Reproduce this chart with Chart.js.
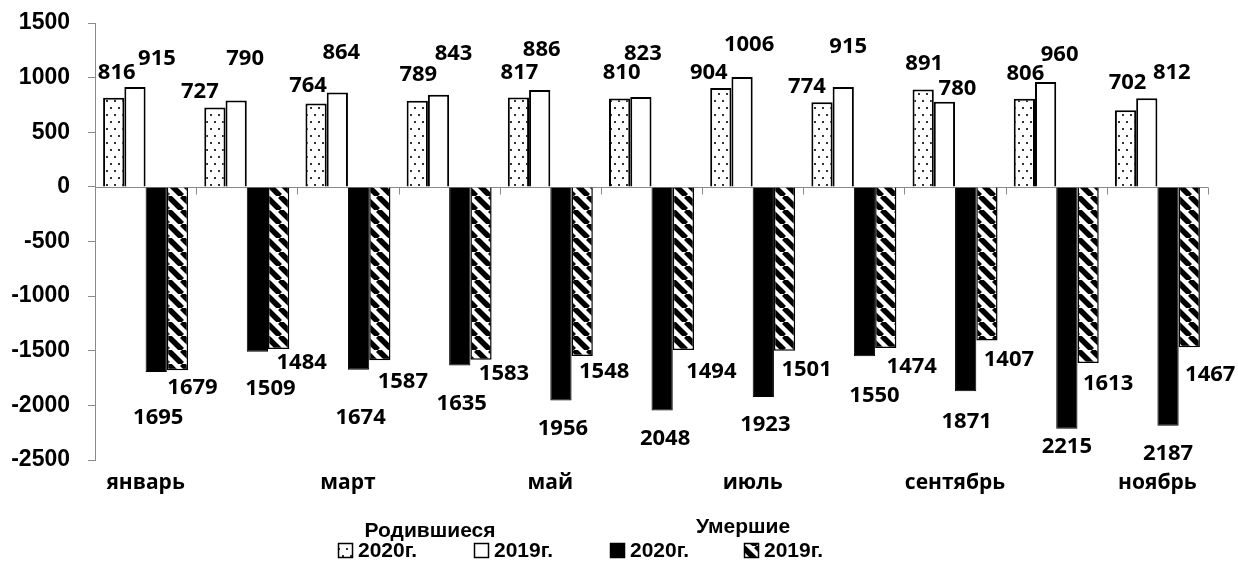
<!DOCTYPE html>
<html><head><meta charset="utf-8">
<script src="https://cdn.jsdelivr.net/npm/chart.js@4.4.1/dist/chart.umd.min.js"></script>
<style>html,body{margin:0;padding:0;background:#fff;}#wrap{width:1238px;height:564px;position:relative;}</style>
</head><body><div id="wrap"><canvas id="c" width="1238" height="564"></canvas></div>
<script>
const months = ['январь','февраль','март','апрель','май','июнь','июль','август','сентябрь','октябрь','ноябрь'];
const births2020 = [816,727,764,789,817,810,904,774,891,806,702];
const births2019 = [915,790,864,843,886,823,1006,915,780,960,812];
const deaths2020 = [-1695,-1509,-1674,-1635,-1956,-2048,-1923,-1550,-1871,-2215,-2187];
const deaths2019 = [-1679,-1484,-1587,-1583,-1548,-1494,-1501,-1474,-1407,-1613,-1467];
const yTickValues = [-2500,-2000,-1500,-1000,-500,0,500,1000,1500];
const seriesLabels = ['2020г.','2019г.','2020г.','2019г.'];
const groupTitles = ['Родившиеся','Умершие'];

// label nudges (pixels, relative to bar end)
const labelNudgeX = [[3,-15,-8,1,1,2,-12,-15,1,1,2],[22,9,4,15,2,2,7,5,13,14,25],[2,13,2,2,2,3,2,10,1,0,0],[15,23,23,23,22,28,22,26,22,20,21]];
const labelNudgeY = [[-25,-16,-18,-26,-25,-26,-15,-16,-26,-25,-27],[-28,-42,-40,-41,-40,-43,-32,-40,-13,-27,-25],[46,37,48,38,28,28,28,40,30,18,28],[17,14,21,14,16,22,19,19,19,21,28]];

const canvas = document.getElementById('c');
const ctx0 = canvas.getContext('2d');
function dotPattern(){
  const c=document.createElement('canvas'); c.width=8; c.height=14;
  const x=c.getContext('2d'); x.fillStyle='#fff'; x.fillRect(0,0,8,14);
  x.fillStyle='#333'; x.fillRect(2,2,2,2); x.fillRect(6,9,2,2);
  return ctx0.createPattern(c,'repeat');
}
function stripePattern(){
  const s=14; const c=document.createElement('canvas'); c.width=s; c.height=s;
  const x=c.getContext('2d'); x.fillStyle='#fff'; x.fillRect(0,0,s,s);
  x.strokeStyle='#000'; x.lineWidth=5.5;
  for(const o of [-s,0,s]){ x.beginPath(); x.moveTo(o,0); x.lineTo(o+s,s); x.stroke(); }
  return ctx0.createPattern(c,'repeat');
}
const fills = [dotPattern(), '#ffffff', '#000000', stripePattern()];
const AXIS = '#8a8a8a';

const zeroLine = {
  id:'zeroLine',
  beforeDatasetsDraw(chart){
    const {ctx, chartArea:a, scales:{x,y}} = chart;
    const y0 = Math.round(y.getPixelForValue(0))+0.5;
    const n = x.ticks.length, w=(a.right-a.left)/n;
    ctx.save(); ctx.strokeStyle=AXIS; ctx.lineWidth=1; ctx.beginPath();
    ctx.moveTo(a.left,y0); ctx.lineTo(a.right,y0);
    for(let i=1;i<=n;i++){ const xx=Math.round(a.left+i*w)+0.5; ctx.moveTo(xx,y0); ctx.lineTo(xx,y0+7); }
    ctx.stroke(); ctx.restore();
  }
};
const valueLabels = {
  id:'valueLabels',
  afterDatasetsDraw(chart){
    const ctx=chart.ctx; ctx.save();
    ctx.font='bold 22px "Open Sans"'; ctx.fillStyle='#000'; ctx.textAlign='center'; ctx.textBaseline='middle';
    chart.data.datasets.forEach((ds,k)=>{
      chart.getDatasetMeta(k).data.forEach((bar,i)=>{
        ctx.fillText(String(Math.abs(ds.data[i])), bar.x+labelNudgeX[k][i], bar.y+labelNudgeY[k][i]);
      });
    });
    ctx.restore();
  }
};
const groupLegend = {
  id:'groupLegend',
  afterDraw(chart){
    const ctx=chart.ctx; ctx.save();
    ctx.font='bold 21px "Liberation Sans"'; ctx.fillStyle='#000'; ctx.textBaseline='middle'; ctx.textAlign='center';
    ctx.fillText(groupTitles[0], 430, 531);
    ctx.fillText(groupTitles[1], 743, 527);
    const iconX=[338,474,610,744];
    chart.data.datasets.forEach((ds,k)=>{
      ctx.fillStyle=ds.backgroundColor; ctx.fillRect(iconX[k],543,15,15);
      ctx.strokeStyle='#000'; ctx.lineWidth=1.5; ctx.strokeRect(iconX[k]+0.5,543.5,14,14);
      ctx.fillStyle='#000'; ctx.textAlign='left';
      ctx.fillText(ds.label, iconX[k]+20, 551);
    });
    ctx.restore();
  }
};

new Chart(canvas, {
  type:'bar',
  data:{
    labels: months,
    datasets:[
      {label:seriesLabels[0], data:births2020, backgroundColor:fills[0], borderColor:'#000', borderWidth:2},
      {label:seriesLabels[1], data:births2019, backgroundColor:fills[1], borderColor:'#000', borderWidth:2},
      {label:seriesLabels[2], data:deaths2020, backgroundColor:fills[2], borderColor:'#000', borderWidth:1},
      {label:seriesLabels[3], data:deaths2019, backgroundColor:fills[3], borderColor:'#000', borderWidth:1.5}
    ]
  },
  options:{
    responsive:false, animation:false, devicePixelRatio:1,
    layout:{padding:{top:23,right:30,bottom:0,left:0}},
    plugins:{legend:{display:false}, tooltip:{enabled:false}},
    datasets:{bar:{categoryPercentage:0.84, barPercentage:1}},
    scales:{
      x:{
        grid:{display:false, drawTicks:false}, border:{display:false},
        ticks:{autoSkip:false, maxRotation:0, padding:10, color:'#000', font:{family:'"Open Sans"', size:21, weight:'bold'},
          callback:(v,i)=> i%2===0 ? months[i] : ''},
        afterFit:(s)=>{ s.height=104; s.paddingLeft=0; s.paddingRight=0; }
      },
      y:{
        min:-2500, max:1500,
        afterBuildTicks:(s)=>{ s.ticks = yTickValues.map(v=>({value:v})); },
        grid:{display:true, drawOnChartArea:false, drawTicks:true, tickLength:7, color:AXIS},
        border:{display:true, color:AXIS, width:1},
        ticks:{padding:18, color:'#000', font:{family:'"Liberation Sans"', size:23, weight:'bold'}, callback:(v)=>String(v)},
        afterFit:(s)=>{ s.width=95; s.paddingTop=0; s.paddingBottom=0; }
      }
    }
  },
  plugins:[zeroLine, valueLabels, groupLegend]
});
</script></body></html>
